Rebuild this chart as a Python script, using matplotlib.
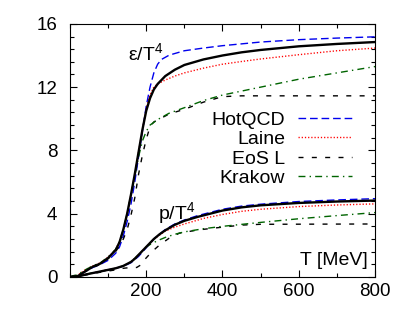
import matplotlib
matplotlib.use("Agg")
import matplotlib.pyplot as plt
from matplotlib.ticker import MultipleLocator

plt.rcParams["font.family"] = ["Liberation Sans", "DejaVu Sans"]
plt.rcParams["mathtext.fontset"] = "custom"
plt.rcParams["mathtext.rm"] = "Liberation Sans"
plt.rcParams["mathtext.it"] = "Liberation Sans:italic"

# energy density e/T^4
T_e_lat = [0, 20, 40, 60, 80, 100, 120, 130, 140, 150, 160, 170, 180, 190, 200, 210, 220, 230, 250, 275, 300, 350, 400, 450, 500, 600, 700, 800]
e_lat = [0, 0.05, 0.35, 0.65, 0.85, 1.2, 1.7, 2.2, 3.0, 4.0, 5.2, 6.5, 7.9, 9.3, 10.5, 11.3, 11.85, 12.2, 12.7, 13.1, 13.4, 13.75, 14.0, 14.2, 14.35, 14.58, 14.73, 14.85]

T_e_hot = [0, 20, 40, 60, 80, 100, 120, 130, 140, 150, 160, 170, 180, 190, 200, 210, 220, 230, 240, 260, 300, 350, 400, 500, 600, 700, 800]
e_hot = [0, 0.05, 0.35, 0.6, 0.8, 1.05, 1.5, 1.9, 2.6, 3.5, 4.6, 6.0, 7.6, 9.2, 10.8, 12.0, 12.9, 13.45, 13.75, 14.02, 14.3, 14.47, 14.62, 14.85, 15.0, 15.1, 15.18]

T_e_laine = [0, 20, 40, 60, 80, 100, 120, 130, 140, 150, 160, 170, 180, 190, 200, 210, 220, 230, 250, 275, 300, 350, 400, 450, 500, 600, 700, 800]
e_laine = [0, 0.1, 0.45, 0.7, 0.9, 1.25, 1.75, 2.25, 3.0, 4.0, 5.2, 6.5, 7.9, 9.3, 10.6, 11.5, 12.0, 12.2, 12.45, 12.7, 12.9, 13.2, 13.45, 13.62, 13.78, 14.05, 14.3, 14.47]

T_e_eosl = [0, 40, 60, 80, 100, 120, 140, 150, 160, 170, 180, 190, 200, 210, 220, 240, 260, 300, 350, 400, 450, 800]
e_eosl = [0, 0.35, 0.6, 0.8, 1.15, 1.6, 2.4, 3.0, 3.9, 5.0, 6.5, 7.7, 8.7, 9.5, 9.8, 10.05, 10.3, 10.6, 11.05, 11.4, 11.45, 11.45]

T_e_krak = [0, 20, 40, 60, 80, 100, 120, 130, 140, 150, 160, 170, 180, 190, 200, 210, 230, 260, 300, 350, 400, 500, 600, 700, 800]
e_krak = [0, 0.15, 0.45, 0.7, 0.9, 1.25, 1.75, 2.25, 3.0, 4.0, 5.2, 6.4, 7.6, 8.6, 9.2, 9.6, 9.95, 10.35, 10.7, 11.15, 11.5, 12.0, 12.5, 12.9, 13.3]

# pressure p/T^4
T_p_lat = [0, 20, 40, 60, 80, 100, 120, 140, 160, 170, 180, 190, 200, 210, 220, 235, 250, 275, 300, 335, 400, 450, 500, 600, 700, 800]
p_lat = [0, 0.02, 0.15, 0.25, 0.35, 0.45, 0.55, 0.7, 0.95, 1.15, 1.4, 1.65, 1.9, 2.15, 2.4, 2.7, 2.95, 3.3, 3.55, 3.8, 4.2, 4.4, 4.53, 4.68, 4.77, 4.83]

T_p_hot = [0, 20, 40, 60, 80, 100, 120, 140, 160, 180, 200, 220, 250, 275, 300, 335, 400, 450, 500, 600, 700, 800]
p_hot = [0, 0.02, 0.15, 0.25, 0.35, 0.45, 0.55, 0.68, 0.9, 1.3, 1.85, 2.4, 3.0, 3.35, 3.6, 3.88, 4.28, 4.48, 4.6, 4.77, 4.87, 4.95]

T_p_laine = [0, 20, 40, 60, 80, 100, 120, 140, 160, 180, 200, 220, 250, 275, 300, 350, 400, 450, 500, 600, 700, 800]
p_laine = [0, 0.03, 0.15, 0.25, 0.35, 0.45, 0.55, 0.7, 0.95, 1.4, 1.9, 2.4, 2.9, 3.15, 3.35, 3.7, 3.95, 4.15, 4.28, 4.45, 4.55, 4.62]

T_p_eosl = [0, 40, 80, 120, 140, 160, 175, 185, 199, 215, 234, 260, 287, 335, 400, 450, 500, 800]
p_eosl = [0, 0.12, 0.3, 0.45, 0.55, 0.6, 0.6, 0.75, 1.18, 1.6, 2.0, 2.45, 2.77, 2.97, 3.15, 3.28, 3.33, 3.35]

T_p_krak = [0, 20, 40, 60, 80, 100, 120, 140, 160, 180, 200, 210, 230, 250, 275, 300, 350, 400, 500, 600, 700, 800]
p_krak = [0, 0.04, 0.16, 0.26, 0.35, 0.45, 0.55, 0.7, 0.95, 1.4, 1.9, 2.05, 2.3, 2.5, 2.7, 2.85, 3.05, 3.2, 3.45, 3.68, 3.88, 4.07]

labels = ["HotQCD", "Laine", "EoS L", "Krakow"]

fig = plt.figure(figsize=(4.09, 3.18), dpi=100)
ax = fig.add_axes([0.171, 0.129, 0.746, 0.796])

st_hot = dict(color="#0000ee", lw=1.0, dashes=(5.5, 2.8))
st_laine = dict(color="#ff0000", lw=1.0, dashes=(0.9, 1.4))
st_eosl = dict(color="black", lw=1.0, dashes=(3.6, 6.0))
st_krak = dict(color="#006400", lw=1.0, dashes=(5, 3, 1, 3))

ax.plot(T_e_hot, e_hot, label=labels[0], **st_hot)
ax.plot(T_e_laine, e_laine, label=labels[1], **st_laine)
ax.plot(T_e_eosl, e_eosl, label=labels[2], **st_eosl)
ax.plot(T_e_krak, e_krak, label=labels[3], **st_krak)
ax.plot(T_p_hot, p_hot, **st_hot)
ax.plot(T_p_laine, p_laine, **st_laine)
ax.plot(T_p_eosl, p_eosl, **st_eosl)
ax.plot(T_p_krak, p_krak, **st_krak)
ax.plot(T_e_lat, e_lat, color="black", lw=1.7)
ax.plot(T_p_lat, p_lat, color="black", lw=1.7)

ax.set_xlim(0, 800)
ax.set_ylim(0, 16)
ax.xaxis.set_major_locator(MultipleLocator(200))
ax.xaxis.set_minor_locator(MultipleLocator(100))
ax.yaxis.set_major_locator(MultipleLocator(4))
ax.yaxis.set_minor_locator(MultipleLocator(0.8))
ax.set_xticks([200, 400, 600, 800])
ax.tick_params(which="both", direction="in", top=True, right=True, labelsize=13.5)
ax.tick_params(which="major", length=5, width=0.8)
ax.tick_params(which="minor", length=3, width=0.8)
ax.tick_params(axis="y", pad=9)
ax.tick_params(axis="x", pad=4)

ax.text(0.19, 0.885, "ε/T$^4$", transform=ax.transAxes, fontsize=14, va="center")
ax.text(0.289, 0.253, "p/T$^4$", transform=ax.transAxes, fontsize=14, va="center")
ax.text(0.977, 0.067, "T [MeV]", transform=ax.transAxes, fontsize=14, ha="right", va="center")

leg = ax.legend(loc="upper right", bbox_to_anchor=(0.925, 0.656), frameon=False,
                markerfirst=False, fontsize=14, handlelength=2.78,
                labelspacing=0.1, handletextpad=0.67, borderpad=0,
                borderaxespad=0)

fig.savefig("out.png", dpi=100)
